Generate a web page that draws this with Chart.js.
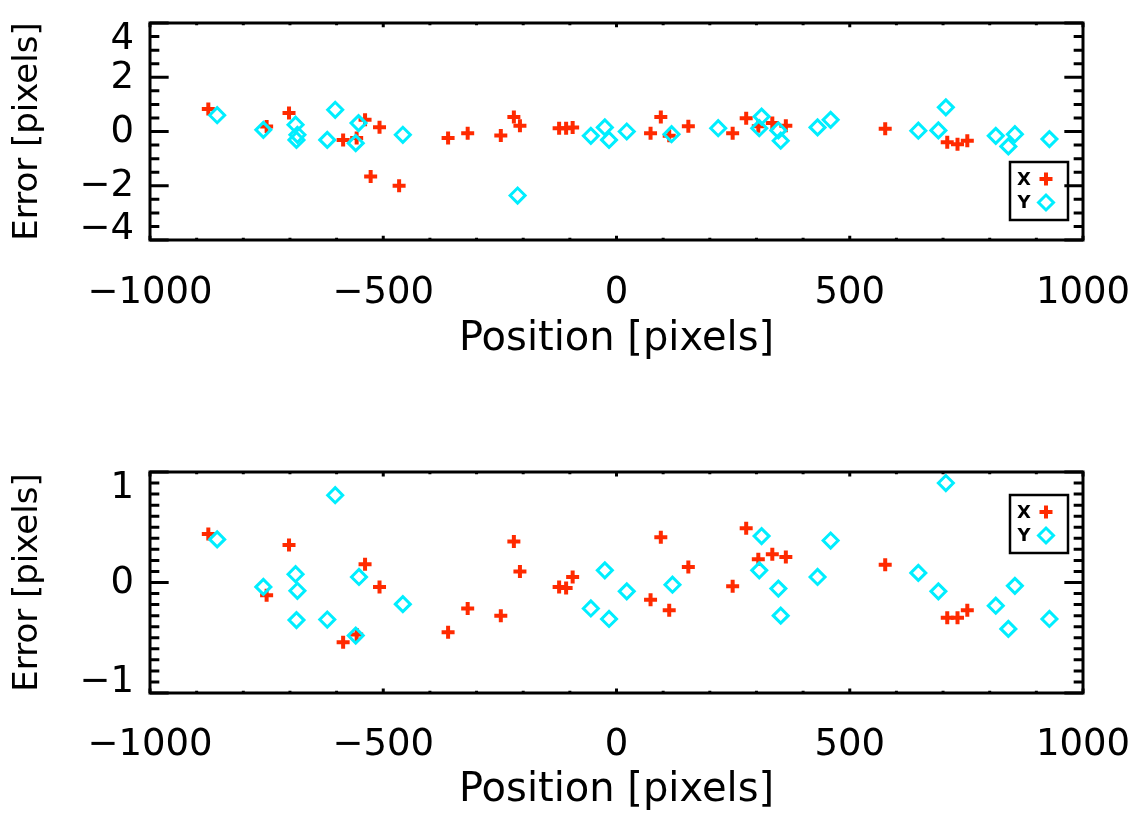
<!DOCTYPE html>
<html>
<head>
<meta charset="utf-8">
<script src="https://cdn.jsdelivr.net/npm/chart.js"></script>
<style>
html,body{margin:0;padding:0;background:#fff;}
canvas{display:block;}
</style>
</head>
<body>
<canvas id="c1" width="1137" height="408"></canvas>
<canvas id="c2" width="1137" height="407"></canvas>
<script>
// ---------------- data ----------------
const xTickValues = [-1000, -500, 0, 500, 1000];
const yTickValuesTop = [-4, -2, 0, 2, 4];
const yTickValuesBottom = [-1, 0, 1];
const seriesLabels = ['X', 'Y'];
const xAxisTitle = 'Position [pixels]';
const yAxisTitle = 'Error [pixels]';

// top panel, X errors (red +)
const topXPos = [-875,-750,-702,-586,-557,-539,-527,-508,-466,-361,-319,-248,-220,-207,-123,-108,-94,73,95,113,154,249,278,304,334,363,576,709,731,752];
const topXErr = [0.83,0.18,0.68,-0.31,-0.24,0.43,-1.66,0.16,-2.0,-0.24,-0.06,-0.15,0.53,0.21,0.12,0.12,0.15,-0.06,0.53,-0.16,0.19,-0.06,0.49,0.19,0.31,0.21,0.10,-0.40,-0.47,-0.34];
// top panel, Y errors (cyan diamonds)
const topYPos = [-856,-757,-688,-684,-686,-620,-603,-559,-553,-458,-212,-55,-25,-16,22,118,218,311,306,347,352,431,459,647,706,690,813,840,854,928];
const topYErr = [0.60,0.06,0.25,-0.12,-0.31,-0.31,0.80,-0.43,0.31,-0.12,-2.36,-0.16,0.15,-0.31,0.0,-0.10,0.12,0.55,0.12,0.04,-0.34,0.15,0.43,0.03,0.89,0.04,-0.16,-0.55,-0.10,-0.28];

// bottom panel, X errors
const botXPos = [-875,-750,-702,-586,-557,-539,-508,-361,-319,-248,-220,-207,-123,-108,-94,73,95,113,154,249,278,304,334,363,576,709,731,752];
const botXErr = [0.44,-0.115,0.34,-0.54,-0.47,0.165,-0.04,-0.45,-0.235,-0.30,0.37,0.10,-0.04,-0.05,0.05,-0.155,0.41,-0.25,0.14,-0.035,0.49,0.21,0.255,0.23,0.16,-0.32,-0.32,-0.25];
// bottom panel, Y errors
const botYPos = [-856,-757,-688,-684,-686,-620,-603,-559,-552,-458,-55,-25,-16,22,120,311,306,347,352,431,459,647,706,690,813,840,854,928];
const botYErr = [0.39,-0.04,0.075,-0.075,-0.34,-0.335,0.79,-0.48,0.05,-0.196,-0.235,0.11,-0.33,-0.08,-0.02,0.42,0.11,-0.055,-0.30,0.05,0.38,0.087,0.90,-0.08,-0.21,-0.42,-0.03,-0.33];

// ---------------- styling ----------------
const RED = '#ff2a00';
const CYAN = '#00eeff';
const FONT = '"DejaVu Sans", "Liberation Sans", sans-serif';
Chart.defaults.font.family = FONT;
Chart.defaults.color = '#000';

function fmt(v) {
  const r = Math.round(v * 1000) / 1000;
  return r < 0 ? '\u2212' + Math.abs(r) : String(r);
}

const idlPlugin = {
  id: 'idlAxes',
  afterDraw(chart, args, opts) {
    const {ctx, chartArea: a, scales: {x, y}} = chart;
    const w = a.right - a.left, h = a.bottom - a.top;
    ctx.save();
    ctx.strokeStyle = '#000';
    ctx.lineWidth = 3;
    ctx.lineCap = 'butt';
    // frame
    ctx.strokeRect(a.left, a.top, w, h);
    // x ticks (top and bottom, inward)
    const xMaj = h * 0.02, xMin = xMaj / 2;
    const nx = Math.round((x.max - x.min) / opts.xMinor);
    ctx.beginPath();
    for (let k = 0; k <= nx; k++) {
      const v = x.min + k * opts.xMinor;
      const major = opts.xMajor.some(m => Math.abs(m - v) < 1e-6);
      const len = major ? xMaj : xMin;
      const px = x.getPixelForValue(v);
      ctx.moveTo(px, a.bottom); ctx.lineTo(px, a.bottom - len);
      ctx.moveTo(px, a.top); ctx.lineTo(px, a.top + len);
    }
    // y ticks (left and right, inward)
    const yMaj = w * 0.02, yMin = yMaj / 2;
    const ny = Math.round((y.max - y.min) / opts.yMinor);
    for (let k = 0; k <= ny; k++) {
      const v = y.min + k * opts.yMinor;
      const major = opts.yMajor.some(m => Math.abs(m - v) < 1e-6);
      const len = major ? yMaj : yMin;
      const py = y.getPixelForValue(v);
      ctx.moveTo(a.left, py); ctx.lineTo(a.left + len, py);
      ctx.moveTo(a.right, py); ctx.lineTo(a.right - len, py);
    }
    ctx.stroke();
    // y tick labels
    ctx.fillStyle = '#000';
    ctx.font = '37px ' + FONT;
    ctx.textAlign = 'right';
    ctx.textBaseline = 'middle';
    opts.yMajor.forEach(v => {
      let py = y.getPixelForValue(v);
      if (v === y.max) py += 16; else if (v === y.min) py -= 11; else py += 1;
      ctx.fillText(fmt(v), a.left - 16, py);
    });
    // legend box
    const bx = a.right - 73, by = a.top + opts.legendTop, bw = 58, bh = 58;
    ctx.lineWidth = 2.5;
    ctx.strokeRect(bx, by, bw, bh);
    ctx.font = 'bold 18px ' + FONT;
    ctx.textAlign = 'center';
    const rows = [by + 17, by + 40.5];
    chart.data.datasets.forEach((ds, i) => {
      ctx.fillStyle = '#000';
      ctx.fillText(ds.label, bx + 14, rows[i] + 1);
      ctx.strokeStyle = ds.pointBorderColor;
      ctx.fillStyle = 'rgba(0,0,0,0)';
      ctx.lineWidth = ds.pointBorderWidth;
      Chart.helpers.drawPoint(ctx, {pointStyle: ds.pointStyle, radius: ds.pointRadius, borderWidth: ds.pointBorderWidth, rotation: 0}, bx + 36, rows[i]);
    });
    ctx.restore();
  }
};

function makeChart(id, c) {
  return new Chart(document.getElementById(id), {
    type: 'scatter',
    data: {
      datasets: [
        {
          label: seriesLabels[0],
          data: c.xPos.map((p, i) => ({x: p, y: c.xErr[i]})),
          pointStyle: 'cross', pointRadius: 6.5, pointBorderWidth: 4,
          pointBorderColor: RED, pointBackgroundColor: RED, order: 2
        },
        {
          label: seriesLabels[1],
          data: c.yPos.map((p, i) => ({x: p, y: c.yErr[i]})),
          pointStyle: 'rectRot', pointRadius: 7.5, pointBorderWidth: 3,
          pointBorderColor: CYAN, pointBackgroundColor: 'rgba(0,0,0,0)', order: 1
        }
      ]
    },
    options: {
      responsive: false,
      animation: false,
      events: [],
      layout: {padding: {left: 0, right: 54, top: c.top, bottom: 0}},
      scales: {
        x: {
          type: 'linear', min: -1000, max: 1000,
          afterBuildTicks: s => { s.ticks = xTickValues.map(v => ({value: v})); },
          ticks: {font: {size: 37}, padding: c.xLabelPad, maxRotation: 0, autoSkip: false, callback: v => fmt(v)},
          grid: {display: false, drawTicks: false},
          border: {display: false},
          title: {display: true, text: xAxisTitle, font: {size: 40}, padding: {top: 0, bottom: c.xTitlePad}},
          afterFit: s => { s.height = c.xH; s.paddingLeft = 0; s.paddingRight = 0; }
        },
        y: {
          type: 'linear', min: c.yMin, max: c.yMax,
          ticks: {display: false},
          grid: {display: false, drawTicks: false},
          border: {display: false},
          title: {display: true, text: yAxisTitle, font: {size: 34}, padding: {top: 8, bottom: 0}},
          afterFit: s => { s.width = 150; s.paddingTop = 0; s.paddingBottom = 0; }
        }
      },
      plugins: {
        legend: {display: false},
        tooltip: {enabled: false},
        idlAxes: {xMajor: xTickValues, xMinor: 100, yMajor: c.yMajor, yMinor: c.yMinorStep, legendTop: c.legendTop}
      }
    },
    plugins: [idlPlugin]
  });
}

makeChart('c1', {
  xPos: topXPos, xErr: topXErr, yPos: topYPos, yErr: topYErr,
  yMin: -4, yMax: 4, yMajor: yTickValuesTop, yMinorStep: 0.5,
  top: 23, xH: 168, xLabelPad: 31, xTitlePad: 44, legendTop: 139
});
makeChart('c2', {
  xPos: botXPos, xErr: botXErr, yPos: botYPos, yErr: botYErr,
  yMin: -1, yMax: 1, yMajor: yTickValuesBottom, yMinorStep: 0.1,
  top: 64, xH: 122, xLabelPad: 30, xTitlePad: 0, legendTop: 23
});
</script>
</body>
</html>
